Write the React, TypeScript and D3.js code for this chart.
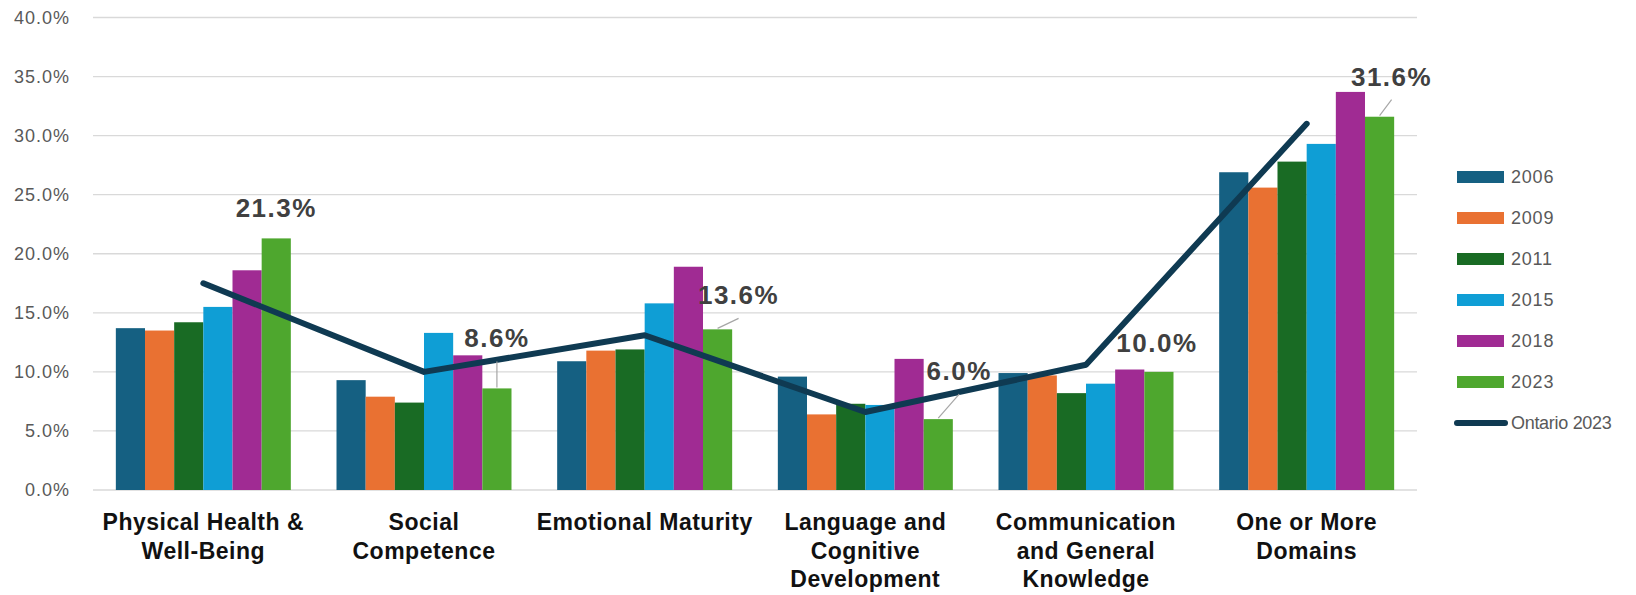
import * as d3 from 'd3';

// categories, wrapped the way the chart shows them
const categories = [
  'Physical Health & Well-Being',
  'Social Competence',
  'Emotional Maturity',
  'Language and Cognitive Development',
  'Communication and General Knowledge',
  'One or More Domains'
];
const categoryLines = [
  ['Physical Health &', 'Well-Being'],
  ['Social', 'Competence'],
  ['Emotional Maturity'],
  ['Language and', 'Cognitive', 'Development'],
  ['Communication', 'and General', 'Knowledge'],
  ['One or More', 'Domains']
];

const years = ['2006', '2009', '2011', '2015', '2018', '2023'];
const v2006 = [13.7, 9.3, 10.9, 9.6, 9.9, 26.9];
const v2009 = [13.5, 7.9, 11.8, 6.4, 9.7, 25.6];
const v2011 = [14.2, 7.4, 11.9, 7.3, 8.2, 27.8];
const v2015 = [15.5, 13.3, 15.8, 7.2, 9.0, 29.3];
const v2018 = [18.6, 11.4, 18.9, 11.1, 10.2, 33.7];
const v2023 = [21.3, 8.6, 13.6, 6.0, 10.0, 31.6];
const ontario2023 = [17.5, 10.0, 13.1, 6.6, 10.6, 31.0];
const yTicks = [0, 5, 10, 15, 20, 25, 30, 35, 40];

const seriesValues = [v2006, v2009, v2011, v2015, v2018, v2023];
const colors = ['#156082', '#E97132', '#196B24', '#0F9ED5', '#A02B93', '#4EA72E'];
const lineColor = '#0f3a52';

// hand placed data labels for 2023 (pixels from bar top centre)
const labelNudge = [
  { dx: 0, dy: -21, leader: false },
  { dx: 0, dy: -41, leader: true },
  { dx: 21, dy: -25, leader: true },
  { dx: 21, dy: -39, leader: true },
  { dx: -2, dy: -20, leader: false },
  { dx: 12, dy: -31, leader: true }
];

const width = 1636;
const height = 595;
const marginLeft = 93;
const marginRight = 219;
const marginTop = 17.5;
const plotBottom = 490;
const font = "'Liberation Sans', Arial, sans-serif";

export default function App() {
  const x = d3
    .scaleBand<string>()
    .domain(categories)
    .range([marginLeft, width - marginRight])
    .paddingInner(0.207)
    .paddingOuter(0.1035);
  const xs = d3.scaleBand<string>().domain(years).range([0, x.bandwidth()]);
  const y = d3.scaleLinear().domain([0, 40]).range([plotBottom, marginTop]);
  const fmt = (v: number) => d3.format('.1%')(v / 100);

  const line = d3
    .line<number>()
    .x((_, i) => (x(categories[i]) as number) + x.bandwidth() / 2)
    .y((d) => y(d));

  const legendX = 1457;
  const legendY0 = 177;
  const legendStep = 41;

  return (
    <div style={{ position: 'absolute', left: 0, top: 0 }}>
      <svg width={width} height={height} style={{ display: 'block', background: '#fff', fontFamily: font }}>
        {/* grid + y axis */}
        {yTicks.map((t) => (
          <g key={t}>
            <line x1={marginLeft} x2={width - marginRight} y1={y(t)} y2={y(t)} stroke='#d9d9d9' strokeWidth={1.3} />
            <text x={70} y={y(t)} dy='0.36em' textAnchor='end' fontSize={18} letterSpacing={1} fill='#595959'>
              {fmt(t)}
            </text>
          </g>
        ))}

        {/* bars */}
        {seriesValues.map((vals, s) => (
          <g key={years[s]} fill={colors[s]}>
            {vals.map((v, i) => (
              <rect
                key={i}
                x={(x(categories[i]) as number) + (xs(years[s]) as number)}
                y={y(v)}
                width={xs.bandwidth()}
                height={y(0) - y(v)}
              />
            ))}
          </g>
        ))}

        {/* Ontario line */}
        <path d={line(ontario2023) || ''} fill='none' stroke={lineColor} strokeWidth={6} strokeLinecap='round' strokeLinejoin='round' />

        {/* 2023 data labels */}
        {v2023.map((v, i) => {
          const cx = (x(categories[i]) as number) + (xs('2023') as number) + xs.bandwidth() / 2;
          const top = y(v);
          const n = labelNudge[i];
          const lx = cx + n.dx;
          const ly = top + n.dy;
          return (
            <g key={i}>
              {n.leader && <line x1={cx} y1={top - 1} x2={lx} y2={ly + 14} stroke='#a6a6a6' strokeWidth={1.2} />}
              <text x={lx} y={ly} textAnchor='middle' fontSize={26} letterSpacing={1.5} fontWeight='bold' fill='#404040'>
                {fmt(v)}
              </text>
            </g>
          );
        })}

        {/* category labels */}
        {categoryLines.map((lines, i) => (
          <text
            key={i}
            x={(x(categories[i]) as number) + x.bandwidth() / 2}
            y={530}
            textAnchor='middle'
            fontSize={23}
            letterSpacing={0.5}
            fontWeight='bold'
            fill='#111'
          >
            {lines.map((l, j) => (
              <tspan key={j} x={(x(categories[i]) as number) + x.bandwidth() / 2} dy={j === 0 ? 0 : 28.5}>
                {l}
              </tspan>
            ))}
          </text>
        ))}

        {/* legend */}
        {years.map((yr, s) => (
          <g key={yr} transform={`translate(${legendX},${legendY0 + s * legendStep})`}>
            <rect x={0} y={-6} width={47} height={12} fill={colors[s]} />
            <text x={54} y={0} dy='0.36em' fontSize={18} letterSpacing={0.8} fill='#595959'>
              {yr}
            </text>
          </g>
        ))}
        <g transform={`translate(${legendX},${legendY0 + 6 * legendStep})`}>
          <line x1={0} x2={48} y1={0} y2={0} stroke={lineColor} strokeWidth={6} strokeLinecap='round' />
          <text x={54} y={0} dy='0.36em' fontSize={18} fill='#595959' letterSpacing={-0.3}>
            Ontario 2023
          </text>
        </g>
      </svg>
    </div>
  );
}
